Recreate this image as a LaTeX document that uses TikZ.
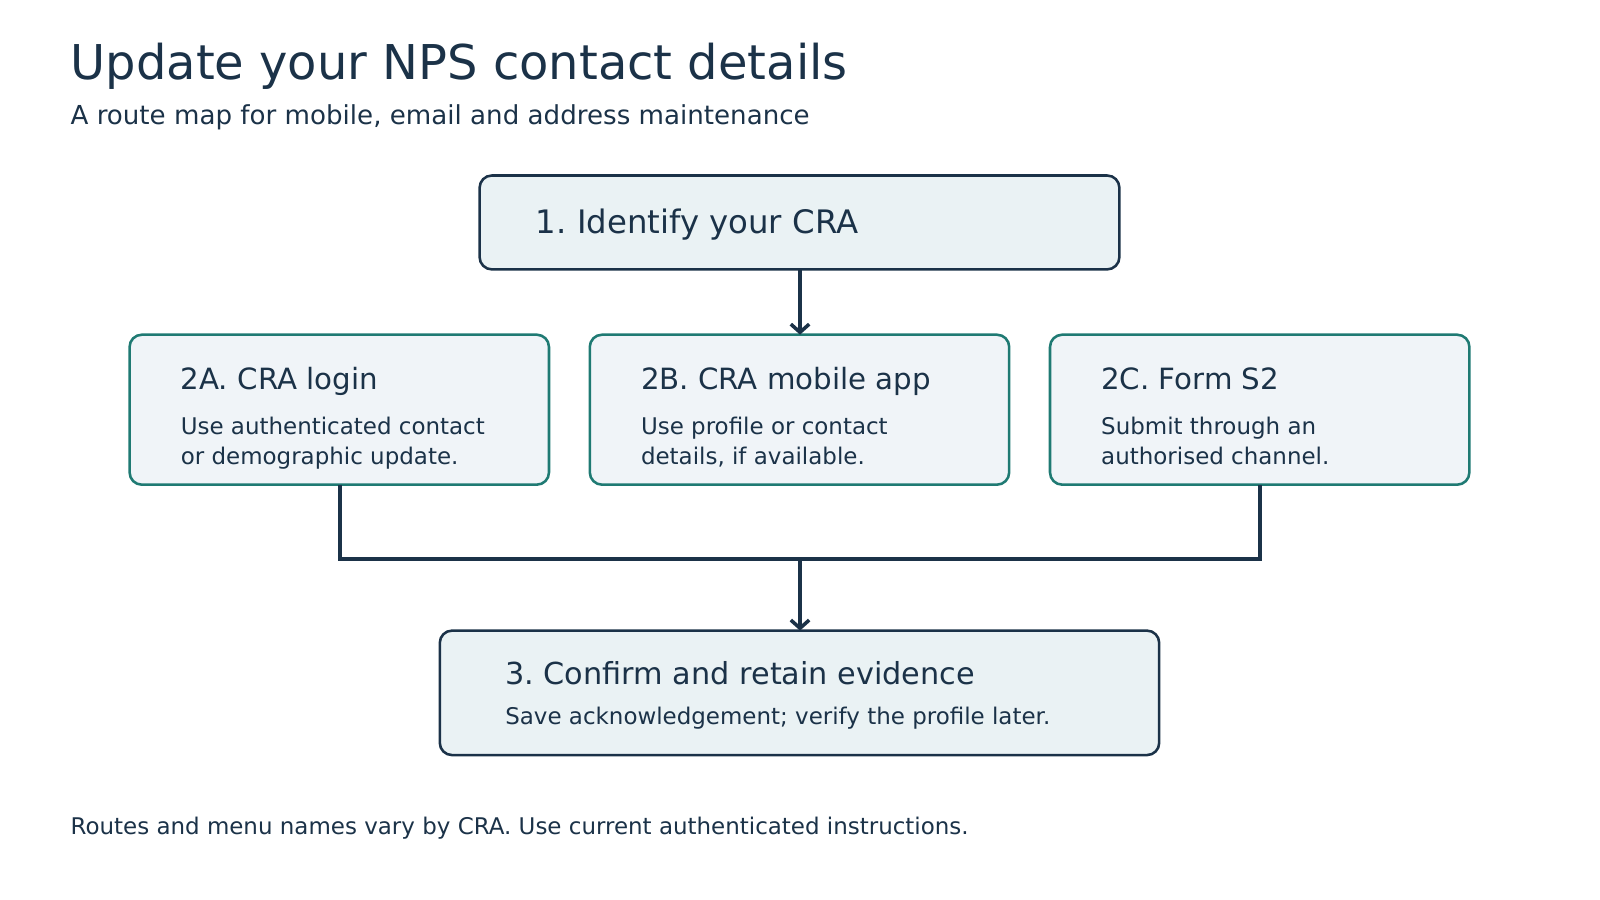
\documentclass[tikz,border=0pt]{standalone}
\usepackage{fontspec}
\setmainfont{DejaVu Sans}
\frenchspacing
\usetikzlibrary{arrows.meta}
\definecolor{navy}{HTML}{1B3248}
\definecolor{teal}{HTML}{1F7A73}
\definecolor{fa}{HTML}{EAF2F4}
\definecolor{fb}{HTML}{F0F4F8}
\begin{document}
\begin{tikzpicture}[x=1pt,y=-1pt,
 bx/.style={draw=#1,line width=2.5pt,rounded corners=12pt},
 wire/.style={draw=navy,line width=3.5pt},
 arr/.style={wire,-{Straight Barb[length=8pt,width=18pt]}},
 t/.style={anchor=base west,text=navy,inner sep=0}]
\useasboundingbox (0,0) rectangle (1568,882);
\node[t,font=\fontsize{47}{50}\selectfont] (title) at (69,78) {Update your NPS contact details};
\node[t,font=\fontsize{25.6}{30}\selectfont] (sub) at (69,122) {A route map for mobile, email and address maintenance};
\draw[bx=navy,fill=fa] (470,172) rectangle (1097,264);
\node[t,font=\fontsize{31.7}{36}\selectfont] (h1) at (525,229) {1. Identify your CRA};
\coordinate (b1) at (784,264);
\foreach \n/\x/\h/\a/\b in {a/127/2A. CRA login/Use authenticated contact/or demographic update.,
 b/578/2B. CRA mobile app/Use profile or contact/details{,} if available.,
 c/1029/2C. Form S2/Submit through an/authorised channel.}{
 \draw[bx=teal,fill=fb] (\x,328) rectangle +(411,147);
 \node[t,font=\fontsize{28.7}{32}\selectfont] (h\n) at (\x+50,382) {\h};
 \node[t,font=\fontsize{22.5}{26}\selectfont] (p\n) at (\x+50,426) {\a};
 \node[t,font=\fontsize{22.5}{26}\selectfont] (q\n) at (\x+50,455) {\b};
}
\coordinate (ta) at (333,475); \coordinate (tb) at (784,328); \coordinate (tc) at (1235,475);
\coordinate (j) at (784,548);
\draw[bx=navy,fill=fa] (431,618) rectangle (1136,740);
\node[t,font=\fontsize{29.7}{34}\selectfont] (h3) at (495,671) {3. Confirm and retain evidence};
\node[t,font=\fontsize{22.5}{26}\selectfont] (p3) at (495,710) {Save acknowledgement; verify the profile later.};
\coordinate (t3) at (784,618);
\draw[arr] (b1) -- (tb);
\draw[wire] (ta) |- (j) -| (tc);
\draw[arr] (j) -- (t3);
\node[t,font=\fontsize{22.5}{26}\selectfont] (foot) at (69,818) {Routes and menu names vary by CRA. Use current authenticated instructions.};
\end{tikzpicture}
\end{document}
